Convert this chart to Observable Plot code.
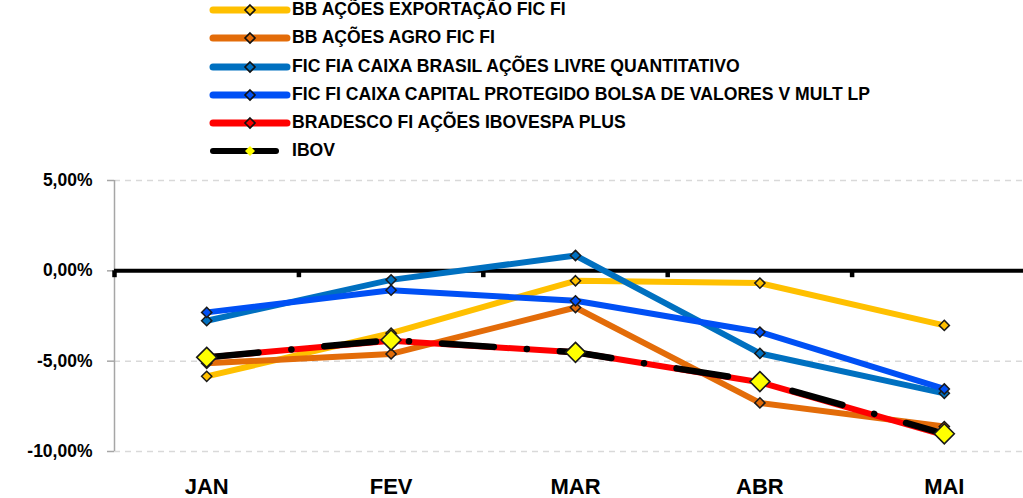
<!DOCTYPE html>
<html><head><meta charset="utf-8">
<script src="https://cdn.jsdelivr.net/npm/d3@7"></script>
<script src="https://cdn.jsdelivr.net/npm/@observablehq/plot@0.6"></script>
<style>
html,body{margin:0;padding:0;background:#fff;width:1023px;height:498px;overflow:hidden}
#legend{position:relative;height:165px;width:1023px}
.row{position:absolute;left:0;width:1023px;height:28px}
.row svg{position:absolute;left:205px;top:0}
.row span{position:absolute;left:292px;top:3px;line-height:28px;font:bold 17.6px "Liberation Sans Narrow","Arial Narrow",sans-serif;color:#000;white-space:nowrap}
#chart svg{display:block}
</style></head><body>
<div id="legend"></div><div id="chart"></div>
<script>
const months = ["JAN", "FEV", "MAR", "ABR", "MAI"];
const seriesNames = [
  "BB AÇÕES EXPORTAÇÃO FIC FI",
  "BB AÇÕES AGRO FIC FI",
  "FIC FIA CAIXA BRASIL AÇÕES LIVRE QUANTITATIVO",
  "FIC FI CAIXA CAPITAL PROTEGIDO BOLSA DE VALORES V MULT LP",
  "BRADESCO FI AÇÕES IBOVESPA PLUS",
  "IBOV"
];
const seriesColors = ["#FFC000", "#E36C09", "#0070C0", "#0050F5", "#FF0000", "#000000"];
const bbExportacao = [-5.84, -3.45, -0.55, -0.68, -3.02];
const bbAgro = [-5.12, -4.6, -2.03, -7.31, -8.62];
const caixaLivre = [-2.76, -0.5, 0.85, -4.57, -6.78];
const caixaCapital = [-2.3, -1.07, -1.66, -3.39, -6.54];
const bradesco = [-4.79, -3.87, -4.51, -6.17, -9.1];
const ibov = [-4.79, -3.83, -4.51, -6.13, -9.02];
const yTicks = [5, 0, -5, -10];

const seriesValues = [bbExportacao, bbAgro, caixaLivre, caixaCapital, bradesco, ibov];

// Legend
const legend = document.getElementById("legend");
const rowCenters = [10, 38.3, 66.6, 94.9, 123.2, 151];
seriesNames.forEach((name, k) => {
  const row = document.createElement("div");
  row.className = "row";
  row.style.top = (rowCenters[k] - 14) + "px";
  const isIbov = k === seriesNames.length - 1;
  const x2 = isIbov ? 71 : 82;
  const sw = isIbov ? 6 : 7;
  const markFill = isIbov ? "#FFFF00" : seriesColors[k];
  const markStroke = isIbov ? "none" : "#111";
  row.innerHTML = `<svg width="90" height="28"><line x1="8" y1="14" x2="${x2}" y2="14" stroke="${seriesColors[k]}" stroke-width="${sw}" stroke-linecap="round"/>` +
    `<path d="M45,${14-5}L50,14L45,${14+5}L40,14Z" fill="${markFill}" stroke="${markStroke}" stroke-width="1.6"/></svg><span></span>`;
  row.querySelector("span").textContent = name;
  legend.appendChild(row);
});

const bounds = months.map((m, i) => i - 0.5).concat([months.length - 0.5]);
const font = '"Liberation Sans Narrow","Arial Narrow",sans-serif';

const marks = [
  Plot.ruleY([5, -5, -10], {x1: -0.5, x2: months.length - 0.5, stroke: "#d9d9d9", strokeWidth: 1.5, strokeDasharray: "6,5"}),
  Plot.axisY({ticks: yTicks, tickFormat: d => d.toFixed(2).replace(".", ",") + "%", tickSize: 7, tickPadding: 15, label: null,
    stroke: "#a6a6a6", strokeWidth: 1.5, fill: "#000", fontSize: 17.5, fontWeight: "bold", fontFamily: font}),
  Plot.ruleX([-0.5], {y1: -10, y2: 5, stroke: "#a6a6a6", strokeWidth: 1.5}),
  Plot.axisX({ticks: months.map((m, i) => i), tickFormat: i => months[i], tickSize: 0, tickPadding: 27, label: null,
    fill: "#000", fontSize: 22, fontWeight: "bold", fontFamily: font}),
  Plot.ruleY([0], {x1: -0.5, x2: months.length - 0.5, stroke: "#000", strokeWidth: 4}),
  Plot.ruleX(bounds, {y1: 0, y2: -0.38, stroke: "#000", strokeWidth: 4.5})
];

seriesValues.forEach((vals, k) => {
  const data = vals.map((v, i) => ({i, v}));
  const isIbov = k === seriesValues.length - 1;
  if (isIbov) {
    marks.push(Plot.line(data, {x: "i", y: "v", stroke: seriesColors[k], strokeWidth: 6.5,
      strokeDasharray: "52,33,0.1,33", strokeLinecap: "round", strokeLinejoin: "round"}));
    marks.push(Plot.dot(data, {x: "i", y: "v", symbol: "diamond2", r: 9, fill: "#FFFF00", stroke: "#1a1a1a", strokeWidth: 1.6}));
  } else {
    marks.push(Plot.line(data, {x: "i", y: "v", stroke: seriesColors[k], strokeWidth: 6,
      strokeLinecap: "round", strokeLinejoin: "round"}));
    marks.push(Plot.dot(data, {x: "i", y: "v", symbol: "diamond2", r: 4.6, fill: seriesColors[k], stroke: "#1a1a1a", strokeWidth: 1.5}));
  }
});

const chart = Plot.plot({
  width: 1023, height: 333,
  marginLeft: 114, marginRight: 0, marginTop: 15, marginBottom: 47,
  x: {type: "linear", domain: [-0.5, months.length - 0.5], range: [114, 1036]},
  y: {domain: [-10, 5], range: [286, 15]},
  style: {background: "white", overflow: "visible", fontFamily: font},
  marks
});
document.getElementById("chart").appendChild(chart);
</script>
</body></html>
